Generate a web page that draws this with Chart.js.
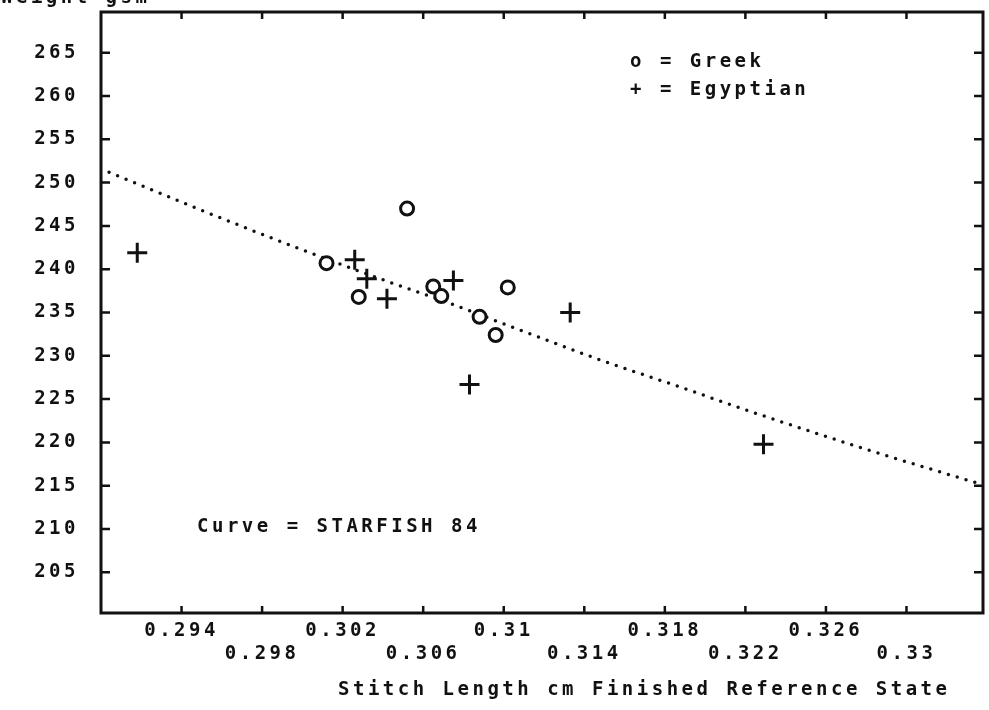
<!DOCTYPE html>
<html>
<head>
<meta charset="utf-8">
<script src="https://cdn.jsdelivr.net/npm/chart.js@4.4.1/dist/chart.umd.min.js"></script>
<style>
  html, body { margin: 0; padding: 0; background: #fff; }
  #wrap { width: 989px; height: 710px; position: relative; }
</style>
</head>
<body>
<div id="wrap"><canvas id="chart"></canvas></div>
<script>
// 축 눈금
const xTickValues = [0.294, 0.298, 0.302, 0.306, 0.310, 0.314, 0.318, 0.322, 0.326, 0.330];
const xTickLabels = ['0.294', '0.298', '0.302', '0.306', '0.31', '0.314', '0.318', '0.322', '0.326', '0.33'];
const yTickValues = [205, 210, 215, 220, 225, 230, 235, 240, 245, 250, 255, 260, 265];

// Greek (o)
const greekX = [0.3052, 0.3012, 0.3028, 0.3065, 0.3069, 0.3102, 0.3088, 0.3096];
const greekY = [247.0, 240.7, 236.8, 238.0, 236.9, 237.9, 234.5, 232.4];

// Egyptian (+)
const egyptX = [0.2918, 0.3026, 0.3032, 0.3042, 0.3075, 0.3083, 0.3133, 0.3229];
const egyptY = [241.9, 241.1, 238.9, 236.6, 238.7, 226.7, 235.0, 219.8];

// STARFISH 84 curve
const curveX = [0.2904, 0.2950, 0.2997, 0.3035, 0.3075, 0.3110, 0.3147, 0.3185, 0.3226, 0.3280, 0.3338];
const curveY = [251.2, 246.8, 242.5, 239.2, 235.9, 232.8, 229.6, 226.6, 223.3, 219.2, 215.1];

// 텍스트
const xTitle = 'Stitch Length cm Finished Reference State';
const yTitle = 'Weight gsm';
const legendLines = ['o = Greek', '+ = Egyptian'];
const curveNote = 'Curve = STARFISH 84';

const ink = '#111';
const fontSpec = "bold 19px 'DejaVu Sans Mono', monospace";
const spacing = '3.5px';

function toPoints(xs, ys) {
    return xs.map((x, i) => ({ x, y: ys[i] }));
}

// 축 여백 제거 (차트 영역 위치 고정)
function noPadding(scale) {
    scale.paddingTop = 0;
    scale.paddingBottom = 0;
    scale.paddingLeft = 0;
    scale.paddingRight = 0;
}

Chart.defaults.font.family = "'DejaVu Sans Mono', monospace";
Chart.defaults.font.size = 19;
Chart.defaults.font.weight = 'bold';
Chart.defaults.color = ink;

// 글자 간격 (모든 캔버스 텍스트)
const spacingPlugin = {
    id: 'spacing',
    beforeUpdate(chart) { chart.ctx.letterSpacing = spacing; },
    beforeDraw(chart) { chart.ctx.letterSpacing = spacing; }
};

// 테두리, 안쪽 눈금, 주석 텍스트
const framePlugin = {
    id: 'frame',
    afterDatasetsDraw(chart) {
        const { ctx, chartArea: a, scales } = chart;
        ctx.save();
        ctx.strokeStyle = ink;
        ctx.lineWidth = 3;
        ctx.strokeRect(a.left, a.top, a.right - a.left, a.bottom - a.top);

        ctx.lineWidth = 2.5;
        ctx.beginPath();
        scales.x.ticks.forEach(t => {
            const px = scales.x.getPixelForValue(t.value);
            ctx.moveTo(px, a.bottom); ctx.lineTo(px, a.bottom - 7);
            ctx.moveTo(px, a.top); ctx.lineTo(px, a.top + 7);
        });
        scales.y.ticks.forEach(t => {
            const py = scales.y.getPixelForValue(t.value);
            ctx.moveTo(a.left, py); ctx.lineTo(a.left + 9, py);
            ctx.moveTo(a.right, py); ctx.lineTo(a.right - 9, py);
        });
        ctx.stroke();

        ctx.fillStyle = ink;
        ctx.font = fontSpec;
        ctx.letterSpacing = spacing;
        ctx.textAlign = 'left';
        ctx.textBaseline = 'middle';
        ctx.fillText(legendLines[0], 630, 62);
        ctx.fillText(legendLines[1], 630, 90);
        ctx.fillText(curveNote, 197, 527);
        ctx.fillText(xTitle, 338, 690);
        ctx.textBaseline = 'alphabetic';
        ctx.fillText(yTitle, 1, 3);
        ctx.restore();
    }
};

new Chart(document.getElementById('chart'), {
    type: 'scatter',
    data: {
        datasets: [
            {
                type: 'line',
                label: 'STARFISH 84',
                data: toPoints(curveX, curveY),
                borderColor: ink,
                borderWidth: 3.5,
                borderDash: [0, 9.2],
                borderCapStyle: 'round',
                pointRadius: 0,
                cubicInterpolationMode: 'monotone',
                fill: false,
                order: 2
            },
            {
                label: 'Greek',
                data: toPoints(greekX, greekY),
                pointStyle: 'circle',
                pointRadius: 6.5,
                borderWidth: 3,
                borderColor: ink,
                backgroundColor: '#fff',
                order: 1
            },
            {
                label: 'Egyptian',
                data: toPoints(egyptX, egyptY),
                pointStyle: 'cross',
                pointRadius: 10,
                borderWidth: 3,
                borderColor: ink,
                order: 0
            }
        ]
    },
    options: {
        responsive: true,
        maintainAspectRatio: false,
        animation: false,
        events: [],
        layout: { autoPadding: false, padding: { top: 12, right: 6, bottom: 0, left: 0 } },
        plugins: {
            legend: { display: false },
            tooltip: { enabled: false }
        },
        scales: {
            x: {
                type: 'linear',
                min: 0.2900,
                max: 0.3338,
                afterBuildTicks(scale) {
                    scale.ticks = xTickValues.map(v => ({ value: v }));
                },
                afterFit(scale) { scale.height = 97; noPadding(scale); },
                grid: { display: false, drawTicks: false },
                border: { display: false },
                ticks: {
                    autoSkip: false,
                    maxRotation: 0,
                    minRotation: 0,
                    padding: 7,
                    color: ink,
                    font: { size: 19, weight: 'bold', lineHeight: 1.2 },
                    callback(value, index) {
                        const label = xTickLabels[index];
                        return index % 2 === 0 ? [label, ''] : ['', label];
                    }
                }
            },
            y: {
                type: 'linear',
                min: 200.3,
                max: 269.7,
                afterBuildTicks(scale) {
                    scale.ticks = yTickValues.map(v => ({ value: v }));
                },
                afterFit(scale) { scale.width = 101; noPadding(scale); },
                grid: { display: false, drawTicks: false },
                border: { display: false },
                ticks: {
                    padding: 22,
                    color: ink,
                    font: { size: 19, weight: 'bold' },
                    callback(value) { return String(value); }
                }
            }
        }
    },
    plugins: [spacingPlugin, framePlugin]
});
</script>
</body>
</html>
